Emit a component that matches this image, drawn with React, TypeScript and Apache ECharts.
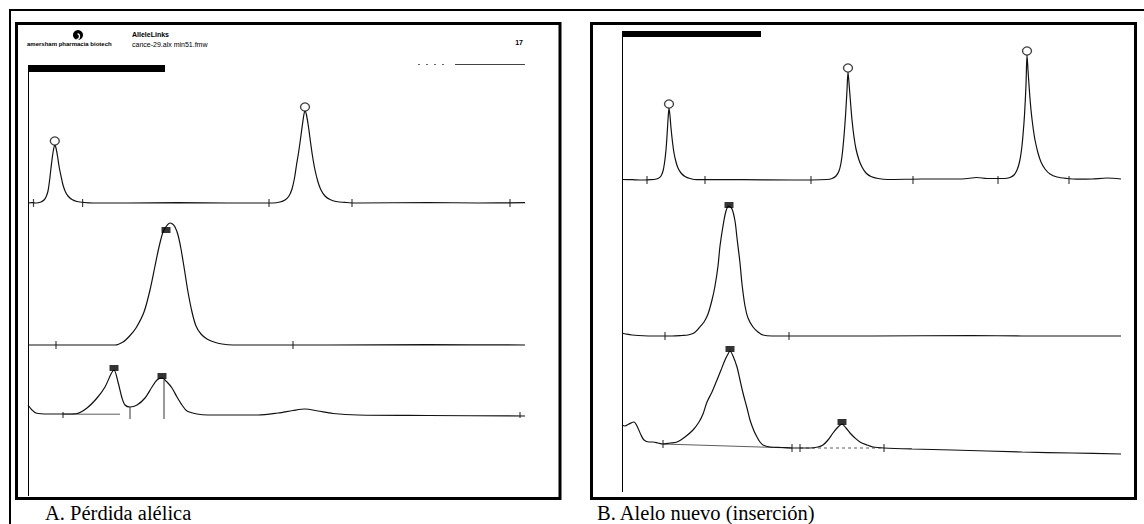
import React, { useEffect, useRef } from "react";
import * as echarts from "echarts";

// ---------- Panel A (Pérdida alélica): x = scan position from the y axis, y = signal above baseline ----------
const leftTrace1: number[][] = [
  [0, 0], [4, 0.4], [8, 0], [13, 1], [16, 3], [18, 6], [20, 12], [21.5, 22], [23, 35], [24.5, 47], [25.8, 55],
  [26.8, 58], [28, 55], [29.5, 47], [31, 37], [33, 27], [35, 18], [37.5, 11], [40, 7], [44, 3.5], [49, 1.5],
  [56, 0.5], [65, 0], [100, 0], [150, 0.3], [200, 0], [245, 0], [252, 1], [257, 3], [261, 7], [264, 14],
  [266.5, 25], [268.5, 38], [270.5, 50], [272.5, 64], [274.5, 79], [276, 89], [277, 92], [278.5, 88], [280.5, 76],
  [282.5, 61], [284.5, 47], [287, 33], [290, 21], [293, 13], [297, 7], [302, 3.5], [308, 1.5], [318, 0.5],
  [330, 0], [400, 0.5], [450, 0], [497, 0.3],
];
const leftTicks1: number[] = [5.5, 54.6, 241, 324, 482];
const leftCircles1: number[][] = [[26.8, 62], [277, 96]];

const leftTrace2: number[][] = [
  [0, 0], [50, 0], [87, 0], [95, 3], [101.6, 9], [108, 17], [116, 33], [122, 55], [127, 79], [131, 98],
  [135, 113], [138.5, 119], [142, 122], [144.5, 121], [147, 118], [150, 110], [153, 96], [156.5, 75],
  [160, 53], [164, 33], [168, 19], [173, 11], [179, 6], [186, 3], [194, 1], [205, 0], [300, 0], [400, 0.3], [497, 0],
];
const leftTicks2: number[] = [28, 265];
const leftSquares2: number[][] = [[138, 115]];

const leftTrace3: number[][] = [
  [0, 10], [4, 5], [8, 2], [20, 1], [40, 1], [49, 1.5], [59, 7], [69, 17], [77, 28], [83, 41], [86, 45],
  [90, 33], [94, 17], [97, 10], [102, 8], [109, 10], [117, 17], [124, 28], [129, 35], [134, 37], [139, 33],
  [144, 27], [149, 18], [154, 10], [159, 4], [169, 1], [180, 0], [230, 0], [250, 2], [265, 4.5], [277, 6],
  [290, 4], [305, 1.5], [330, 0], [400, -0.5], [497, -1],
];
const leftTicks3: number[] = [35, 492];
const leftSquares3: number[][] = [[86, 47], [134, 39]];
const leftDrops3: number[][] = [[102, 8], [136, 35]];
const leftPeakBase3: number[][] = [[35, 0.8], [92, 0.8]];

// ---------- Panel B (Alelo nuevo) ----------
const rightTrace1: number[][] = [
  [0, 0.5], [10, 0.3], [20, 0], [28, 0.3], [32, 0.5], [36, 1.5], [39, 4], [41, 9], [42.5, 17], [44, 30], [45, 44],
  [46, 60], [47, 72], [48, 64], [49, 52], [50.5, 38], [52, 27], [54, 18], [56, 12], [59, 7], [63, 3.5], [68, 1.5],
  [75, 0.3], [120, 0.3], [170, 0], [205, 0.5], [210, 1.5], [214, 4], [217, 9], [219, 17], [220.5, 28], [222, 44],
  [223.5, 64], [225, 90], [226, 108], [227, 97], [228.5, 78], [230, 60], [232, 43], [234, 31], [237, 20], [240, 13],
  [244, 7], [249, 3.5], [256, 1.5], [266, 0.5], [300, 1], [340, 1], [355, 2.5], [365, 1.5], [382, 1.5], [388, 2.5],
  [392, 5], [395, 10], [397.5, 18], [399.5, 30], [401, 45], [402.5, 65], [404, 95], [405, 125], [406, 110],
  [407.5, 88], [409, 70], [411, 53], [413, 40], [416, 27], [419, 18], [423, 11], [428, 6], [435, 3], [445, 1.5],
  [455, 0.8], [470, 1], [485, 2], [499, 1],
];
const rightTicks1: number[] = [25, 83, 189, 291, 376, 447];
const rightCircles1: number[][] = [[47, 76], [226, 112], [405, 129]];

const rightTrace2: number[][] = [
  [0, 3], [4, 2], [10, 1], [30, 0], [50, 0], [60, 0.5], [66, 1], [72, 3], [77, 8], [82, 14], [86, 22], [90, 36],
  [93, 50], [96, 70], [98, 90], [101, 110], [104, 125], [107, 130], [110, 127], [113, 115], [115, 98], [118, 73],
  [120, 52], [123, 30], [126, 18], [131, 9], [136, 4], [141, 1], [150, 0], [250, 0], [350, 0.5], [400, 0], [499, 0],
];
const rightTicks2: number[] = [43, 167];
const rightSquares2: number[][] = [[107, 131]];

const rightTrace3: number[][] = [
  [0, 25], [3, 24], [7, 26], [12, 28], [15, 24], [19, 15], [22, 10], [27, 8], [31, 8], [36, 7], [41, 6], [48, 7],
  [55, 8], [63, 13], [71, 20], [77, 28], [81, 36], [85, 48], [90, 58], [95, 70], [99, 80], [103, 90], [106, 96],
  [108, 99], [111, 94], [115, 83], [118, 70], [121, 57], [125, 42], [128, 30], [132, 19], [135, 13], [138, 8],
  [141, 5], [148, 3], [160, 2.5], [170, 2], [180, 2], [188, 2], [196, 3], [201, 5], [206, 10], [211, 17],
  [216, 23], [220, 26], [224, 22], [228, 17], [233, 12], [238, 8], [245, 5], [251, 3], [262, 2], [290, 1],
  [330, 0], [400, -2], [450, -3], [499, -4],
];
const rightTicks3: number[][] = [[41, 6], [170, 2], [178, 2], [262, 2]];
const rightSquares3: number[][] = [[108, 101], [220, 28]];
const rightPeakBase3a: number[][] = [[41, 6], [170, 2]];
const rightPeakBase3b: number[][] = [[178, 2], [262, 2]];

const captionA = "A. Pérdida alélica";
const captionB = "B. Alelo nuevo (inserción)";

const INK = "#111";

export default function App() {
  const ref = useRef<HTMLDivElement>(null);
  useEffect(() => {
    if (!ref.current) return;
    const chart = echarts.init(ref.current, undefined, { renderer: "svg" });

    // grid layouts: [left, top, width, height, yMin, yMax, xMax]
    const layouts = [
      [28, 103, 497, 108, -8, 100, 497],
      [28, 215, 497, 138, -8, 130, 497],
      [28, 360, 497, 63, -8, 55, 497],
      [622, 45, 499, 143, -8, 135, 499],
      [622, 196, 499, 148, -8, 140, 499],
      [622, 340, 499, 118, -8, 110, 499],
    ];
    const grid = layouts.map((l) => ({ left: l[0], top: l[1], width: l[2], height: l[3], containLabel: false }));
    const xAxis = layouts.map((l, i) => ({ type: "value", gridIndex: i, min: 0, max: l[6], show: false }));
    const yAxis = layouts.map((l, i) => ({ type: "value", gridIndex: i, min: l[4], max: l[5], show: false }));

    const trace = (i: number, data: number[][]) => ({
      type: "line", xAxisIndex: i, yAxisIndex: i, data, symbol: "none", smooth: 0.3,
      lineStyle: { color: INK, width: 1.2 }, silent: true, z: 2,
    });
    const seg = (i: number, data: number[][], width = 0.8, type: any = "solid") => ({
      type: "line", xAxisIndex: i, yAxisIndex: i, data, symbol: "none",
      lineStyle: { color: "#333", width, type }, silent: true, z: 1,
    });
    const ticks = (i: number, data: number[][], h = 8) => ({
      type: "scatter", xAxisIndex: i, yAxisIndex: i, data, symbol: "rect", symbolSize: [1.2, h],
      itemStyle: { color: INK }, silent: true, z: 3,
    });
    const circles = (i: number, data: number[][]) => ({
      type: "scatter", xAxisIndex: i, yAxisIndex: i, data, symbol: "circle", symbolSize: [9, 8],
      itemStyle: { color: "#fff", borderColor: INK, borderWidth: 1.3 }, silent: true, z: 4,
    });
    const squares = (i: number, data: number[][]) => ({
      type: "scatter", xAxisIndex: i, yAxisIndex: i, data, symbol: "rect", symbolSize: [9, 6],
      itemStyle: { color: "#000" }, silent: true, z: 4,
    });

    const series: any[] = [
      trace(0, leftTrace1), ticks(0, leftTicks1.map((x) => [x, 0])), circles(0, leftCircles1),
      trace(1, leftTrace2), ticks(1, leftTicks2.map((x) => [x, 0])), squares(1, leftSquares2),
      trace(2, leftTrace3), ticks(2, leftTicks3.map((x) => [x, 0]), 6), squares(2, leftSquares3),
      seg(2, leftPeakBase3),
      ...leftDrops3.map((d) => seg(2, [[d[0], d[1]], [d[0], -4]], 1)),
      trace(3, rightTrace1), ticks(3, rightTicks1.map((x) => [x, 0])), circles(3, rightCircles1),
      trace(4, rightTrace2), ticks(4, rightTicks2.map((x) => [x, 0])), squares(4, rightSquares2),
      trace(5, rightTrace3), ticks(5, rightTicks3), squares(5, rightSquares3),
      seg(5, rightPeakBase3a), seg(5, rightPeakBase3b, 0.8, [3, 3]),
    ];

    const txt = (x: number, y: number, text: string, size: number, family: string, weight: any = "normal", align = "left") => ({
      type: "text", x, y, silent: true,
      style: { text, fontSize: size, fontFamily: family, fontWeight: weight, fill: "#000", align, verticalAlign: "top" },
    });

    const graphic: any[] = [
      { type: "line", shape: { x1: 9, y1: 10, x2: 1144, y2: 10 }, style: { stroke: "#000", lineWidth: 2 } },
      { type: "line", shape: { x1: 10, y1: 9, x2: 10, y2: 524 }, style: { stroke: "#000", lineWidth: 2 } },
      { type: "rect", shape: { x: 16.5, y: 23.5, width: 543.5, height: 475 }, style: { fill: "none", stroke: "#000", lineWidth: 3 } },
      { type: "rect", shape: { x: 591.5, y: 23.5, width: 544, height: 475 }, style: { fill: "none", stroke: "#000", lineWidth: 3 } },
      // left header
      { type: "circle", shape: { cx: 78, cy: 35, r: 5 }, style: { fill: "#000" } },
      { type: "arc", shape: { cx: 76.5, cy: 36.5, r: 3, startAngle: -1.2, endAngle: 1.6 }, style: { stroke: "#fff", lineWidth: 1.3, fill: "none" } },
      txt(27, 41, "amersham pharmacia biotech", 6, "Liberation Sans", "bold"),
      txt(132, 31, "AlleleLinks", 7, "Liberation Sans", "bold"),
      txt(132, 41, "cance-29.alx min51.fmw", 7, "Liberation Sans"),
      txt(523, 39, "17", 7, "Liberation Sans", "bold", "right"),
      { type: "rect", shape: { x: 28, y: 65, width: 137, height: 7 }, style: { fill: "#000" } },
      { type: "line", shape: { x1: 455, y1: 64.5, x2: 525, y2: 64.5 }, style: { stroke: "#444", lineWidth: 1 } },
      { type: "line", shape: { x1: 418, y1: 64.5, x2: 450, y2: 64.5 }, style: { stroke: "#666", lineWidth: 1, lineDash: [2, 6] } },
      { type: "line", shape: { x1: 28.5, y1: 72, x2: 28.5, y2: 496 }, style: { stroke: "#000", lineWidth: 1 } },
      // right header
      { type: "rect", shape: { x: 622, y: 31, width: 139, height: 6 }, style: { fill: "#000" } },
      { type: "line", shape: { x1: 622.5, y1: 36, x2: 622.5, y2: 492 }, style: { stroke: "#000", lineWidth: 1 } },
      // captions
      txt(45, 502, captionA, 20.5, "Liberation Serif"),
      txt(597, 502, captionB, 20.5, "Liberation Serif"),
    ];

    chart.setOption({
      animation: false,
      backgroundColor: "#fff",
      grid, xAxis, yAxis, series, graphic,
    });
    return () => chart.dispose();
  }, []);
  return <div ref={ref} style={{ position: "absolute", left: 0, top: 0, width: 1144, height: 524 }} />;
}
